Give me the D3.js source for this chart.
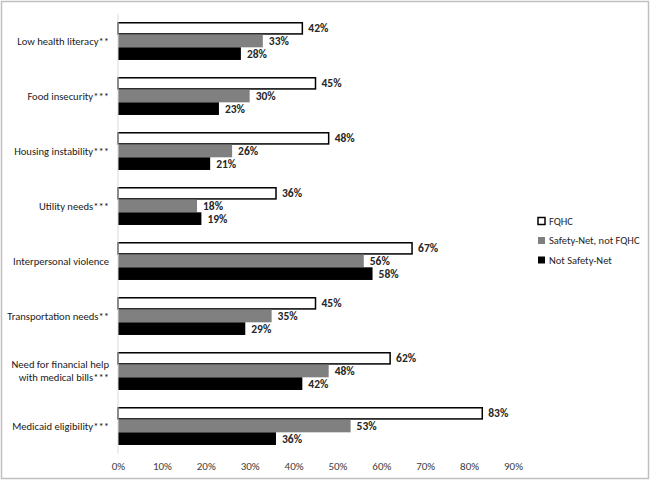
<!DOCTYPE html>
<html>
<head>
<meta charset="utf-8">
<script src="https://cdn.jsdelivr.net/npm/d3@7"></script>
<style>
  body { margin: 0; background: #fff; }
  svg text { font-family: Carlito, "DejaVu Sans Condensed", "Liberation Sans Narrow", "Open Sans", sans-serif; }
</style>
</head>
<body>
<svg id="chart" width="650" height="481"></svg>
<script>
// categories and values
const CATEGORIES = [
  ["Low health literacy**"],
  ["Food insecurity***"],
  ["Housing instability***"],
  ["Utility needs***"],
  ["Interpersonal violence"],
  ["Transportation needs**"],
  ["Need for financial help", "with medical bills***"],
  ["Medicaid eligibility***"]
];
const SERIES = ["FQHC", "Safety-Net, not FQHC", "Not Safety-Net"];
const FQHC = [42, 45, 48, 36, 67, 45, 62, 83];
const SAFETY_NET = [33, 30, 26, 18, 56, 35, 48, 53];
const NOT_SAFETY_NET = [28, 23, 21, 19, 58, 29, 42, 36];
const X_TICKS = [0, 10, 20, 30, 40, 50, 60, 70, 80, 90];

const FILLS = ["#ffffff", "#808080", "#000000"];

const svg = d3.select("#chart");

// outer frame
svg.append("rect")
  .attr("x", 1.5).attr("y", 1.5)
  .attr("width", 647).attr("height", 477)
  .attr("fill", "none")
  .attr("stroke", "#bfbfbf")
  .attr("stroke-width", 1.5);

const X_SCALE = d3.scaleLinear().domain([0, 90]).range([118, 513]);
const Y_SCALE = d3.scaleBand()
  .domain(d3.range(CATEGORIES.length))
  .range([13.5, 453.5])
  .paddingInner(0.31)
  .paddingOuter(0.155);
const SUB_SCALE = d3.scaleBand()
  .domain(d3.range(SERIES.length))
  .range([0, Y_SCALE.bandwidth()]);

const rows = CATEGORIES.map((c, i) => ({
  label: c,
  values: [FQHC[i], SAFETY_NET[i], NOT_SAFETY_NET[i]]
}));

const groups = svg.selectAll(".group")
  .data(rows)
  .enter()
  .append("g")
  .classed("group", true)
  .attr("transform", (d, i) => `translate(0, ${Y_SCALE(i)})`);

groups.selectAll(".bar")
  .data(d => d.values.map((v, s) => ({ v, s })))
  .enter()
  .append("rect")
  .classed("bar", true)
  .attr("x", X_SCALE(0))
  .attr("y", d => SUB_SCALE(d.s) + (d.s === 0 ? 0.75 : 0))
  .attr("width", d => X_SCALE(d.v) - X_SCALE(0))
  .attr("height", d => SUB_SCALE.bandwidth() - (d.s === 0 ? 1.5 : 0))
  .attr("fill", d => FILLS[d.s])
  .attr("stroke", d => d.s === 0 ? "#000" : "none")
  .attr("stroke-width", 1.5);

groups.selectAll(".label")
  .data(d => d.values.map((v, s) => ({ v, s })))
  .enter()
  .append("text")
  .classed("label", true)
  .attr("x", d => X_SCALE(d.v) + 6)
  .attr("y", d => SUB_SCALE(d.s) + SUB_SCALE.bandwidth() / 2)
  .attr("dy", "0.35em")
  .attr("font-size", "11.5px")
  .attr("font-weight", "bold")
  .attr("fill", "#262626")
  .text(d => `${d.v}%`);

// category labels
groups.append("text")
  .attr("text-anchor", "end")
  .attr("font-size", "10.6px")
  .attr("fill", "#1a1a1a")
  .attr("x", 109)
  .attr("y", Y_SCALE.bandwidth() / 2)
  .each(function (d) {
    const t = d3.select(this);
    const n = d.label.length;
    d.label.forEach((line, k) => {
      t.append("tspan")
        .attr("x", 109)
        .attr("dy", k === 0 ? `${0.35 - (n - 1) * 0.6}em` : "1.2em")
        .text(line);
    });
  });

// y axis line
svg.append("line")
  .attr("x1", X_SCALE(0)).attr("x2", X_SCALE(0))
  .attr("y1", 13.5).attr("y2", 453.5)
  .attr("stroke", "#d9d9d9")
  .attr("stroke-width", 1);

// x axis labels
const X_AXIS = d3.axisBottom(X_SCALE)
  .tickValues(X_TICKS)
  .tickFormat(d => `${d}%`)
  .tickSize(0)
  .tickPadding(0);
const xg = svg.append("g")
  .attr("transform", "translate(0, 462)")
  .call(X_AXIS);
xg.select(".domain").remove();
xg.selectAll("text")
  .attr("font-size", "11px")
  .attr("fill", "#404040")
  .style("font-family", null);

// legend
const legend = svg.selectAll(".legend")
  .data(SERIES)
  .enter()
  .append("g")
  .classed("legend", true)
  .attr("transform", (d, i) => `translate(538, ${221 + i * 19.5})`);
legend.append("rect")
  .attr("x", 0).attr("y", -3.5)
  .attr("width", 7).attr("height", 7)
  .attr("fill", (d, i) => FILLS[i])
  .attr("stroke", (d, i) => i === 0 ? "#000" : "none")
  .attr("stroke-width", 1.5);
legend.append("text")
  .attr("x", 11)
  .attr("dy", "0.35em")
  .attr("font-size", "10.5px")
  .attr("fill", "#262626")
  .text(d => d);
</script>
</body>
</html>
